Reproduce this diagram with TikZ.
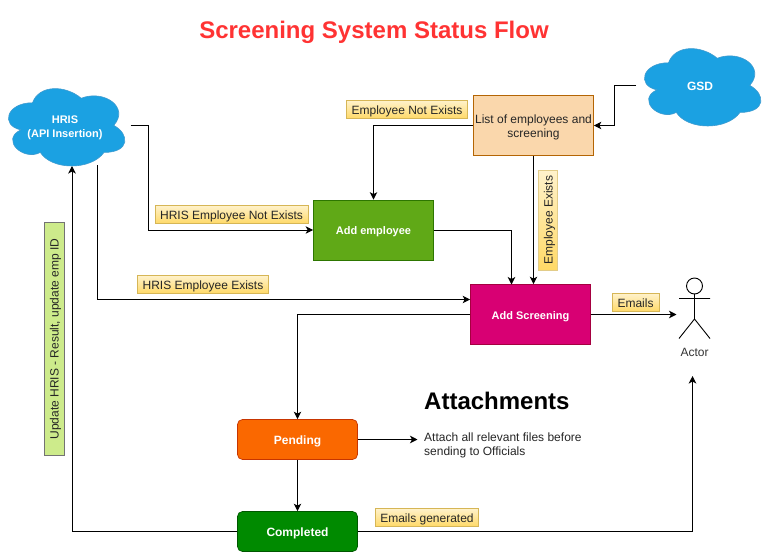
\documentclass[tikz,border=0pt]{standalone}
\usepackage{fontspec}
\setmainfont{Liberation Sans}
\usetikzlibrary{arrows.meta,shadings}
\tikzset{
  x=1pt,y=-1pt,
  every node/.style={font=\fontsize{12}{14}\selectfont,inner sep=0pt},
  flow/.style={draw=black,line width=1pt,-{Stealth[length=7.5pt,width=7.5pt,inset=2pt]}},
  boxbase/.style={draw,line width=0.7pt,minimum width=120pt,minimum height=60pt,align=center,text=white,font=\fontsize{12}{14}\selectfont\bfseries},
  narrowbold/.style={font=\fontsize{11}{14}\selectfont\bfseries},
  oneline/.style={text height=9.2pt,text depth=0pt},
  state/.style={boxbase,oneline,rounded corners=5pt,minimum height=40pt},
  tag/.style={draw=tagline,line width=0.7pt,top color=tagtop,bottom color=tagbot,text=black!85,minimum height=18.5pt,text height=9pt,text depth=0pt},
  cloudfill/.style={fill=cloudblue,draw=cloudline,line width=0.6pt},
  cloudtext/.style={text=white,align=center,font=\fontsize{12}{14}\selectfont\bfseries},
  actorline/.style={draw=black,line width=0.9pt},
}
\definecolor{tagline}{HTML}{D6B656}
\definecolor{tagtop}{HTML}{FFF2CC}
\definecolor{tagbot}{HTML}{FFD966}
\definecolor{cloudblue}{HTML}{1BA1E2}
\definecolor{cloudline}{HTML}{3E9BD0}
\definecolor{listfill}{HTML}{FAD7AC}
\definecolor{listline}{HTML}{B46504}
\definecolor{empfill}{HTML}{60A917}
\definecolor{empline}{HTML}{2D7600}
\definecolor{scrfill}{HTML}{D80073}
\definecolor{scrline}{HTML}{A50040}
\definecolor{penfill}{HTML}{FA6800}
\definecolor{penline}{HTML}{C73500}
\definecolor{comfill}{HTML}{008A00}
\definecolor{comline}{HTML}{005700}
\definecolor{updfill}{HTML}{CDEB8B}
\definecolor{titlered}{HTML}{FF3333}
\newcommand{\cloudpath}[4]{% x y w h
  \path[cloudfill,shift={(#1,#2)},x=#3pt,y=-#4pt]
    (0.25,0.25) .. controls (0.05,0.25) and (0,0.5) .. (0.16,0.55)
    .. controls (0,0.66) and (0.18,0.9) .. (0.31,0.8)
    .. controls (0.4,1) and (0.7,1) .. (0.8,0.8)
    .. controls (1,0.8) and (1,0.6) .. (0.875,0.5)
    .. controls (1,0.3) and (0.8,0.1) .. (0.625,0.2)
    .. controls (0.5,0.05) and (0.3,0.05) .. (0.25,0.25) -- cycle;}
\begin{document}
\begin{tikzpicture}
\useasboundingbox (0,0) rectangle (766,552);
\fill[white] (0,0) rectangle (766,552);

\node[font=\fontsize{24}{28}\selectfont\bfseries,text=titlered] (title) at (374,32) {Screening System Status Flow};

\cloudpath{0}{80.2}{130}{90.3}
\cloudpath{636}{40.2}{130}{90.3}
\node[cloudtext,narrowbold] (hris) at (65,127.5) {HRIS\\(API Insertion)};
\node[cloudtext] (gsd) at (700,86.5) {GSD};
\coordinate (hrisR) at (130.5,125.5);
\coordinate (hrisB) at (97.5,165);
\coordinate (hrisIn) at (72,166);
\coordinate (gsdL) at (636,85.5);

\node[boxbase,fill=listfill,draw=listline,text=black!85,font=\fontsize{12}{14}\selectfont] (list) at (533.5,125.5) {\rule{0pt}{12.7pt}List of employees and\\screening};
\node[boxbase,oneline,narrowbold,fill=empfill,draw=empline] (emp) at (373.5,230) {Add employee};
\node[boxbase,oneline,narrowbold,fill=scrfill,draw=scrline] (scr) at (530.5,314.5) {Add Screening};
\node[state,fill=penfill,draw=penline] (pen) at (297.5,439.5) {Pending};
\node[state,fill=comfill,draw=comline] (com) at (297.5,531.5) {Completed};

\coordinate (actorHead) at (694.5,286);
\draw[actorline] (actorHead) circle (8);
\draw[actorline] (694.5,294) -- (694.5,319) (679,298.5) -- (710,298.5) (679,338.5) -- (694.5,319) -- (710,338.5);
\node[text=black!80] (actor) at (694.5,352) {Actor};
\coordinate (actorL) at (676.5,314.5);
\coordinate (actorB) at (692.5,376);

\node[anchor=west,font=\fontsize{24}{28}\selectfont\bfseries] (att) at (424,401) {Attachments};
\node[anchor=north west,align=left,text=black!85] (attxt) at (424,433) {Attach all relevant files before\\sending to Officials};
\coordinate (attIn) at (417.5,439.5);

% connectors
\draw[flow] (hrisR) -- (148.5,125.5) |- (emp.west);
\draw[flow] (hrisB) |- (scr.west |- 0,299.5);
\draw[flow] (com.west) -| (hrisIn);
\draw[flow] (com.east) -| (actorB);
\draw[flow] (list.west) -| (emp.north);
\draw[flow] (list.south) -- (list.south |- scr.north);
\draw[flow] (emp.east) -| (511.5,284.5);
\draw[flow] (gsdL) -- (614,85.5) |- (list.east);
\draw[flow] (scr.east) -- (actorL);
\draw[flow] (scr.west) -| (pen.north);
\draw[flow] (pen.south) -- (com.north);
\draw[flow] (pen.east) -- (attIn);

% labels
\node[tag,minimum width=153pt] (t1) at (231.5,214.5) {HRIS Employee Not Exists};
\node[tag,minimum width=131pt] (t2) at (203,284.5) {HRIS Employee Exists};
\node[tag,minimum width=121pt] (t3) at (407,109.5) {Employee Not Exists};
\node[tag,minimum width=100pt,rotate=90,draw=tagline!70] (t4) at (548,220) {Employee Exists};
\node[tag,minimum width=47pt] (t5) at (635.5,302.5) {Emails};
\node[tag,minimum width=103pt] (t6) at (427,517.5) {Emails generated};
\node[draw=black!55,line width=0.9pt,fill=updfill,text=black!85,minimum width=233pt,minimum height=20pt,text height=8.5pt,text depth=0pt,rotate=90] (upd) at (54.3,339.2) {Update HRIS - Result, update emp ID};
\end{tikzpicture}
\end{document}
